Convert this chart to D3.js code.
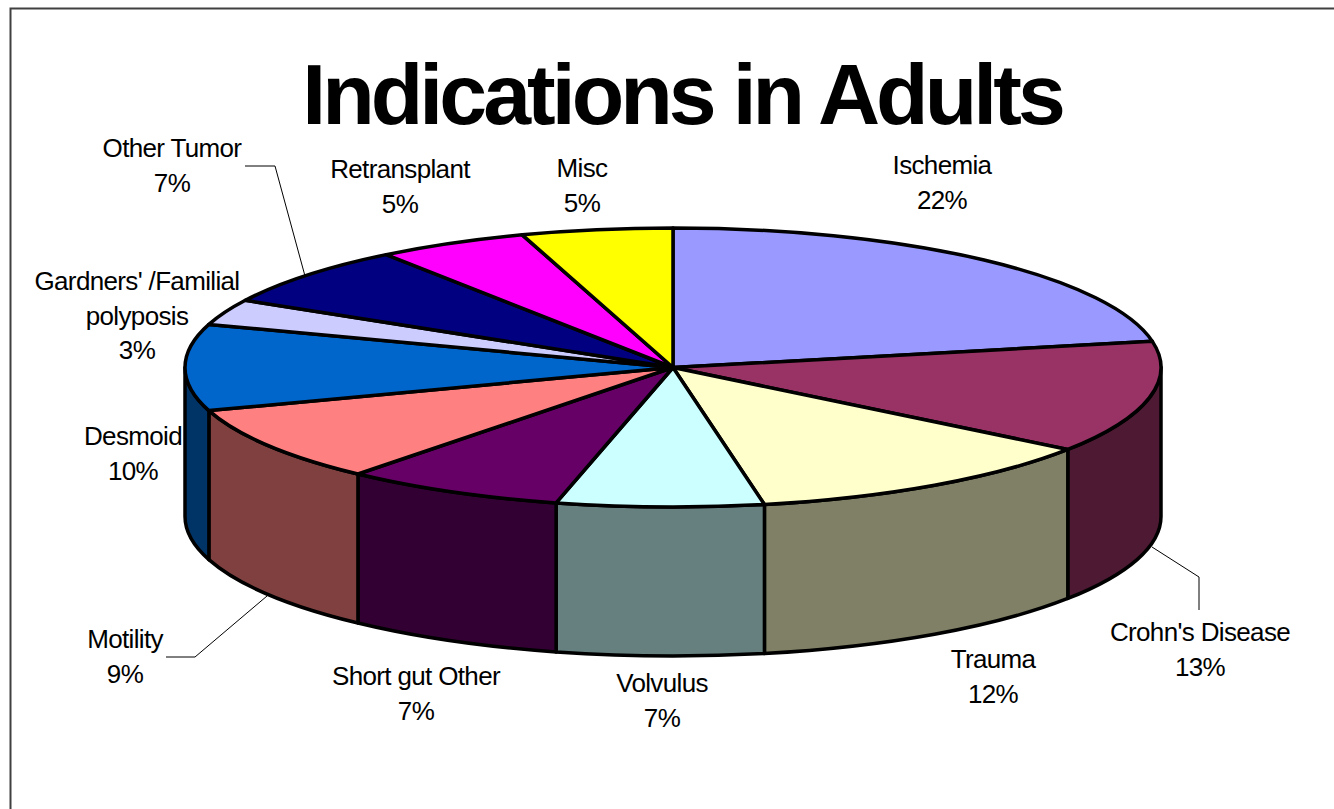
<!DOCTYPE html>
<html>
<head>
<meta charset="utf-8">
<title>Indications in Adults</title>
<script src="https://d3js.org/d3.v7.min.js"></script>
<style>
	html, body { margin: 0; padding: 0; background: #fff; overflow: hidden; }
	svg { display: block; }
	text { font-family: "Liberation Sans", Arial, sans-serif; fill: #000; }
</style>
</head>
<body>
<div id="chart"></div>
<script>
// chart data
var categories = ["Ischemia", "Crohn's Disease", "Trauma", "Volvulus", "Short gut Other", "Motility", "Desmoid", "Gardners' /Familial polyposis", "Other Tumor", "Retransplant", "Misc"];
var values = [22, 13, 12, 6.85, 7.32, 8.83, 10, 3, 7, 5, 5];
var topColors = ["#9999FF", "#993366", "#FFFFCC", "#CCFFFF", "#660066", "#FF8080", "#0066CC", "#CCCCFF", "#000080", "#FF00FF", "#FFFF00"];
var sideColors = ["#4D4D80", "#4D1933", "#808066", "#668080", "#330033", "#804040", "#003366", "#666680", "#000040", "#800080", "#808000"];

// label layout, one entry per category: center x, baseline of first line
var labelX = [942, 1200, 993, 662, 416, 125, 133, 137, 172, 400, 582];
var labelY = [174, 641, 668, 692, 685, 648, 445, 290, 157, 178, 177];
var leaders = [
	[[245, 166], [275, 166], [305, 276]],
	[[166, 657], [195, 657], [267, 596]],
	[[1152, 547], [1199, 577], [1199, 610]]
];

var width = 1334, height = 809;
var cx = 673, cy = 367.5, rx = 488, ry = 139.5, depth = 149;

var svg = d3.select("#chart").append("svg")
	.attr("width", width)
	.attr("height", height);

// frame, it runs off the right and bottom of the picture
svg.append("path")
	.attr("d", "M10.5," + height + "V8.5H" + width)
	.attr("fill", "none")
	.attr("stroke", "#404040")
	.attr("stroke-width", 2);

svg.append("text")
	.text("Indications in Adults")
	.attr("x", 682)
	.attr("y", 124)
	.attr("text-anchor", "middle")
	.attr("font-size", 86)
	.attr("font-weight", "bold")
	.attr("letter-spacing", -3.95);

var pie = d3.pie().sort(null).value(function(d){ return d; });
var slices = pie(values);

// ellipse position for a pie angle (0 is up, clockwise)
var xScale = d3.scaleLinear().domain([-1, 1]).range([cx - rx, cx + rx]);
var yScale = d3.scaleLinear().domain([-1, 1]).range([cy - ry, cy + ry]);
function px(a){ return xScale(Math.sin(a)); }
function py(a){ return yScale(-Math.cos(a)); }

var walls = svg.append("g");
slices.forEach(function(s, i){
	// only the front half of the rim shows
	var a0 = Math.max(s.startAngle, Math.PI / 2);
	var a1 = Math.min(s.endAngle, Math.PI * 1.5);
	if(a1 <= a0) return;
	var d = "M" + px(a0) + "," + py(a0) +
		"A" + rx + "," + ry + " 0 0 1 " + px(a1) + "," + py(a1) +
		"L" + px(a1) + "," + (py(a1) + depth) +
		"A" + rx + "," + ry + " 0 0 0 " + px(a0) + "," + (py(a0) + depth) + "Z";
	walls.append("path")
		.attr("d", d)
		.attr("fill", sideColors[i])
		.attr("stroke", "#000")
		.attr("stroke-width", 3.5)
		.attr("stroke-linejoin", "round");
});

var tops = svg.append("g");
slices.forEach(function(s, i){
	var large = s.endAngle - s.startAngle > Math.PI ? 1 : 0;
	var d = "M" + cx + "," + cy +
		"L" + px(s.startAngle) + "," + py(s.startAngle) +
		"A" + rx + "," + ry + " 0 " + large + " 1 " + px(s.endAngle) + "," + py(s.endAngle) + "Z";
	tops.append("path")
		.attr("d", d)
		.attr("fill", topColors[i])
		.attr("stroke", "#000")
		.attr("stroke-width", 3.5)
		.attr("stroke-linejoin", "round");
});

var line = d3.line();
leaders.forEach(function(pts){
	svg.append("path")
		.attr("d", line(pts))
		.attr("fill", "none")
		.attr("stroke", "#000")
		.attr("stroke-width", 1);
});

var fmt = d3.format(".0%");
categories.forEach(function(name, i){
	// the Gardners label wraps onto two lines
	var lines = name.indexOf("/") > 0 ? ["Gardners' /Familial", "polyposis"] : [name];
	lines.push(fmt(values[i] / 100));
	lines.forEach(function(t, j){
		svg.append("text")
			.text(t)
			.attr("x", labelX[i])
			.attr("y", labelY[i] + j * 34.7)
			.attr("text-anchor", "middle")
			.attr("font-size", 26)
			.attr("letter-spacing", -0.65);
	});
});
</script>
</body>
</html>
